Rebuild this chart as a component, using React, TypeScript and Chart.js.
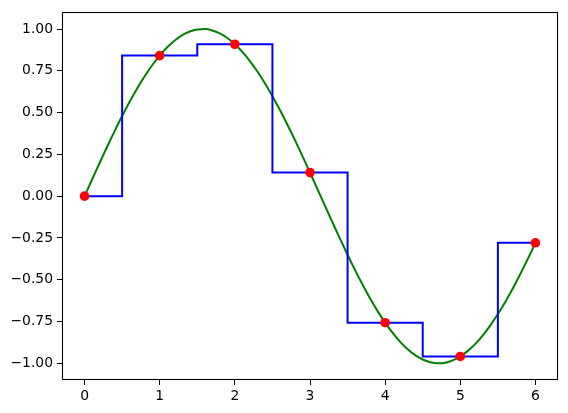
import React, { useEffect, useRef } from "react";
import { Chart, registerables } from "chart.js";

Chart.register(...registerables);

// Smooth curve samples (x every 0.1 from 0 to 6)
const curveX: number[] = [
  0, 0.1, 0.2, 0.3, 0.4, 0.5, 0.6, 0.7, 0.8, 0.9, 1.0, 1.1, 1.2, 1.3, 1.4, 1.5, 1.6, 1.7, 1.8, 1.9,
  2.0, 2.1, 2.2, 2.3, 2.4, 2.5, 2.6, 2.7, 2.8, 2.9, 3.0, 3.1, 3.2, 3.3, 3.4, 3.5, 3.6, 3.7, 3.8, 3.9,
  4.0, 4.1, 4.2, 4.3, 4.4, 4.5, 4.6, 4.7, 4.8, 4.9, 5.0, 5.1, 5.2, 5.3, 5.4, 5.5, 5.6, 5.7, 5.8, 5.9, 6.0,
];
const curveY: number[] = [
  0, 0.0998, 0.1987, 0.2955, 0.3894, 0.4794, 0.5646, 0.6442, 0.7174, 0.7833,
  0.8415, 0.8912, 0.932, 0.9636, 0.9854, 0.9975, 0.9996, 0.9917, 0.9738, 0.9463,
  0.9093, 0.8632, 0.8085, 0.7457, 0.6755, 0.5985, 0.5155, 0.4274, 0.335, 0.2392,
  0.1411, 0.0416, -0.0584, -0.1577, -0.2555, -0.3508, -0.4425, -0.5298, -0.6119, -0.6878,
  -0.7568, -0.8183, -0.8716, -0.9162, -0.9516, -0.9775, -0.9937, -0.9999, -0.9962, -0.9825,
  -0.9589, -0.9258, -0.8835, -0.8323, -0.7728, -0.7055, -0.6313, -0.5507, -0.4646, -0.3739,
  -0.2794,
];

// Sample points (red) — also the nearest-neighbour step values (blue)
const sampleX: number[] = [0, 1, 2, 3, 4, 5, 6];
const sampleY: number[] = [0, 0.841, 0.909, 0.141, -0.757, -0.959, -0.279];

const xTicks: number[] = [0, 1, 2, 3, 4, 5, 6];
const yTicks: number[] = [-1, -0.75, -0.5, -0.25, 0, 0.25, 0.5, 0.75, 1];

const fmtY = (v: number) => {
  const s = Math.abs(v).toFixed(2);
  return v < 0 ? "\u2212" + s : s;
};

const framePlugin = {
  id: "frame",
  afterDraw(chart: any) {
    const { ctx, chartArea } = chart;
    ctx.save();
    ctx.strokeStyle = "#000";
    ctx.lineWidth = 1.1;
    ctx.strokeRect(
      Math.round(chartArea.left) + 0.5,
      Math.round(chartArea.top) + 0.5,
      Math.round(chartArea.right - chartArea.left) - 1,
      Math.round(chartArea.bottom - chartArea.top) - 1
    );
    ctx.restore();
  },
};

export default function App() {
  const ref = useRef<HTMLCanvasElement | null>(null);
  useEffect(() => {
    document.body.style.margin = "0";
    if (!ref.current) return;
    const font = { family: "DejaVu Sans", size: 13.9 };
    const chart = new Chart(ref.current, {
      type: "line",
      data: {
        datasets: [
          {
            type: "scatter" as any,
            data: sampleX.map((x, i) => ({ x, y: sampleY[i] })),
            backgroundColor: "#ff0000",
            borderColor: "#ff0000",
            pointRadius: 4.8,
            pointBorderWidth: 0,
            showLine: false,
            order: 0,
          },
          {
            data: sampleX.map((x, i) => ({ x, y: sampleY[i] })),
            borderColor: "#0000ff",
            borderWidth: 2,
            pointRadius: 0,
            stepped: "middle",
            fill: false,
            order: 1,
          },
          {
            data: curveX.map((x, i) => ({ x, y: curveY[i] })),
            borderColor: "#008000",
            borderWidth: 2,
            pointRadius: 0,
            cubicInterpolationMode: "monotone",
            fill: false,
            order: 2,
          },
        ],
      },
      options: {
        animation: false,
        responsive: false,
        maintainAspectRatio: false,
        layout: { padding: { top: 10, right: 10, bottom: 0, left: 0 } },
        plugins: { legend: { display: false }, tooltip: { enabled: false } },
        scales: {
          x: {
            type: "linear",
            min: -0.3,
            max: 6.3,
            afterFit: (s: any) => {
              s.height = 33;
            },
            afterBuildTicks: (s: any) => {
              s.ticks = xTicks.map((v) => ({ value: v }));
            },
            grid: { drawOnChartArea: false, tickLength: 5, tickColor: "#000", tickWidth: 1 },
            border: { display: false },
            ticks: {
              color: "#000",
              font,
              padding: 3,
              maxRotation: 0,
              autoSkip: false,
              callback: (v: any) => String(v),
            },
          },
          y: {
            type: "linear",
            min: -1.1,
            max: 1.1,
            afterFit: (s: any) => {
              s.width = 62;
            },
            afterBuildTicks: (s: any) => {
              s.ticks = yTicks.map((v) => ({ value: v }));
            },
            grid: { drawOnChartArea: false, tickLength: 5, tickColor: "#000", tickWidth: 1 },
            border: { display: false },
            ticks: {
              color: "#000",
              font,
              padding: 4,
              autoSkip: false,
              callback: (v: any) => fmtY(Number(v)),
            },
          },
        },
      },
      plugins: [framePlugin],
    });
    return () => chart.destroy();
  }, []);
  return (
    <div style={{ width: 568, height: 413 }}>
      <canvas ref={ref} width={568} height={413} style={{ width: 568, height: 413 }} />
    </div>
  );
}
